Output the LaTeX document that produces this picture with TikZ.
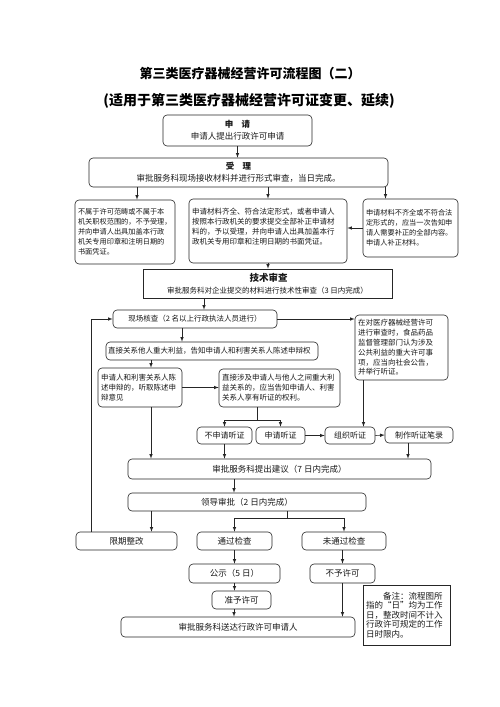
\documentclass[tikz,border=0pt]{standalone}
\usepackage{fontspec}
\setmainfont{Noto Sans CJK SC}
\newcommand{\fsz}[2]{\fontsize{#1}{#2}\selectfont}

\begin{document}
\begin{tikzpicture}[x=1pt,y=-1pt,
      wire/.style={draw=black!85, line width=0.6pt},
      arr/.style={wire, ->, >=latex},
      box/.style={wire, rounded corners=4pt, inner sep=0pt, align=center, text=black!90, font=\fsz{8.5}{12}},
      sqbox/.style={box, rounded corners=0pt},
      para/.style={box, inner xsep=3pt, align=left, font=\fsz{7.5}{10}},
      hdr/.style={font=\bfseries\fsz{9}{11}}
      ]
      \path[fill=white] (0,0) rectangle (500,707);
      \useasboundingbox (0,0) rectangle (500,707);

      \node[font=\bfseries\fsz{13}{15}] (title) at (250,74) {第三类医疗器械经营许可流程图（二）};
      \node[font=\bfseries\fsz{14}{16}] (subtitle) at (249,101) {(适用于第三类医疗器械经营许可证变更、延续)};

      % application and acceptance
      \node[box, minimum width=149, minimum height=31] (apply) at (237.5,130.5)
        {{\bfseries 申\quad 请}\\申请人提出行政许可申请};
      \node[box, minimum width=299, minimum height=29] (accept) at (238.5,172.5)
        {{\bfseries 受\quad 理}\\审批服务科现场接收材料并进行形式审查，当日完成。};
      \node[para, font=\fsz{7.2}{10}, text width=94, minimum height=64] (reject) at (125,232)
        {不属于许可范畴或不属于本\\机关职权范围的，不予受理，\\并向申请人出具加盖本行政\\机关专用印章和注明日期的\\书面凭证。};
      \node[para, text width=152, minimum height=64] (accepted) at (268,231)
        {申请材料齐全、符合法定形式，或者申请人\\按照本行政机关的要求提交全部补正申请材\\料的，予以受理，并向申请人出具加盖本行\\政机关专用印章和注明日期的书面凭证。\\ \mbox{}};
      \node[para, font=\fsz{7.2}{10}, text width=89, minimum height=58] (incomplete) at (410.5,228)
        {申请材料不齐全或不符合法\\定形式的，应当一次告知申\\请人需要补正的全部内容。\\申请人补正材料。};

      % review
      \node[sqbox, minimum width=249, minimum height=29] (tech) at (267.5,283.5)
        {{\bfseries\fsz{9.5}{11} 技术审查}\\{\fsz{7.5}{10}审批服务科对企业提交的材料进行技术性审查（3 日内完成）}};
      \node[box, font=\fsz{7.5}{10}, minimum width=164, minimum height=18] (site) at (195,319)
        {现场核查（2 名以上行政执法人员进行）};
      \node[para, font=\fsz{7.5}{9.8}, text width=87, minimum height=65] (public) at (401.5,347.5)
        {在对医疗器械经营许可\\进行审查时，食品药品\\监督管理部门认为涉及\\公共利益的重大许可事\\项，应当向社会公告，\\并举行听证。};
      \node[para, inner xsep=2pt, text width=208, minimum height=18] (tell) at (212,351)
        {直接关系他人重大利益，告知申请人和利害关系人陈述申辩权};
      \node[para, text width=78, minimum height=39] (state) at (140,387.5)
        {申请人和利害关系人陈\\述申辩的，听取陈述申\\辩意见};
      \node[para, text width=115, minimum height=38] (hearinfo) at (279.5,388)
        {直接涉及申请人与他人之间重大利\\益关系的，应当告知申请人、利害\\关系人享有听证的权利。};

      % hearing
      \node[box, font=\fsz{8}{10}, minimum width=55, minimum height=17] (nohear) at (224.5,435.5) {不申请听证};
      \node[box, font=\fsz{8}{10}, minimum width=49, minimum height=17] (hear) at (280.5,435.5) {申请听证};
      \node[box, font=\fsz{8}{10}, minimum width=50, minimum height=17] (organize) at (350,435.5) {组织听证};
      \node[box, font=\fsz{8}{10}, minimum width=68, minimum height=16] (record) at (419,435) {制作听证笔录};

      % decision
      \node[box, minimum width=303, minimum height=20] (suggest) at (279.5,469) {审批服务科提出建议（7 日内完成）};
      \node[box, minimum width=238, minimum height=18] (leader) at (247,502) {领导审批（2 日内完成）};
      \node[box, minimum width=101, minimum height=18] (rectify) at (126.5,541) {限期整改};
      \node[box, minimum width=75, minimum height=18] (pass) at (234.5,541) {通过检查};
      \node[box, minimum width=84, minimum height=18] (fail) at (344,541) {未通过检查};
      \node[box, minimum width=91, minimum height=19] (publish) at (234.5,573.5) {公示（5 日）};
      \node[box, minimum width=65, minimum height=19] (deny) at (342.5,573.5) {不予许可};
      \node[box, minimum width=59, minimum height=18] (grant) at (241.5,600) {准予许可};
      \node[box, minimum width=234, minimum height=20] (deliver) at (238,627) {审批服务科送达行政许可申请人};
      \node[sqbox, para, rounded corners=0pt, font=\fsz{8.5}{9.6}, text width=81, minimum height=60] (note) at (406.5,615)
        {\hspace*{2em}备注：流程图所\\指的“日”均为工作\\日，整改时间不计入\\行政许可规定的工作\\日时限内。};

      % connectors
      \draw[arr] (apply.south) -- (apply.south |- accept.north);
      \draw[arr] ([xshift=12]reject.north |- accept.south) -- ([xshift=12]reject.north);
      \draw[arr] (accepted.north |- accept.south) -- (accepted.north);
      \draw[arr] ([xshift=-25]incomplete.north |- accept.south) -- ([xshift=-25]incomplete.north);
      \draw[arr] (incomplete.west) -- (incomplete.west -| accepted.east);
      \draw[arr] (accepted.south) -- (accepted.south |- tech.north);
      \draw[arr] ([xshift=9]site.north |- tech.south) -- ([xshift=9]site.north);
      \draw[arr] (site.east) -- (site.east -| public.west);
      \draw[arr] ([xshift=-38]public.south) -- ([xshift=-38]public.south |- organize.north);
      \draw[arr] ([xshift=-13]site.south) -- ([xshift=-13]site.south |- tell.north);
      \draw[arr] ([xshift=11]state.north |- tell.south) -- ([xshift=11]state.north);
      \draw[arr] (state.east) -- (state.east -| hearinfo.west);
      \draw[wire] ([xshift=-22]hearinfo.south) -- ++(0,13) coordinate (hs);
      \draw[arr] (hs) -| (nohear.north);
      \draw[arr] (hs) -| (hear.north);
      \draw[arr] (hear.east) -- (organize.west);
      \draw[arr] (organize.east) -- (record.west);
      \draw[arr] ([xshift=11]state.south) -- ([xshift=11]state.south |- suggest.north);
      \draw[arr] (nohear.south) -- (nohear.south |- suggest.north);
      \draw[arr] ([xshift=-11]record.south) -- ([xshift=-11]record.south |- suggest.north);
      \draw[arr] ([xshift=-13]leader.north |- suggest.south) -- ([xshift=-13]leader.north);
      \draw[arr] ([xshift=25]rectify.north |- leader.south) -- ([xshift=25]rectify.north);
      \draw[wire] ([xshift=40]leader.south) -- ++(0,7) coordinate (ls);
      \draw[arr] (ls) -| (pass.north);
      \draw[arr] (ls) -| (fail.north);
      \draw[arr] ([xshift=-35.5]rectify.north) |- (site.west);
      \draw[arr] (pass.south) -- (publish.north);
      \draw[arr] (deny.north |- fail.south) -- (deny.north);
      \draw[arr] (publish.south) -- (publish.south |- grant.north);
      \draw[arr] ([xshift=-7.5]grant.south) -- ([xshift=-7.5]grant.south |- deliver.north);
      \draw[arr] (deny.south) -- (deny.south |- deliver.north);
    \end{tikzpicture}
\end{document}
